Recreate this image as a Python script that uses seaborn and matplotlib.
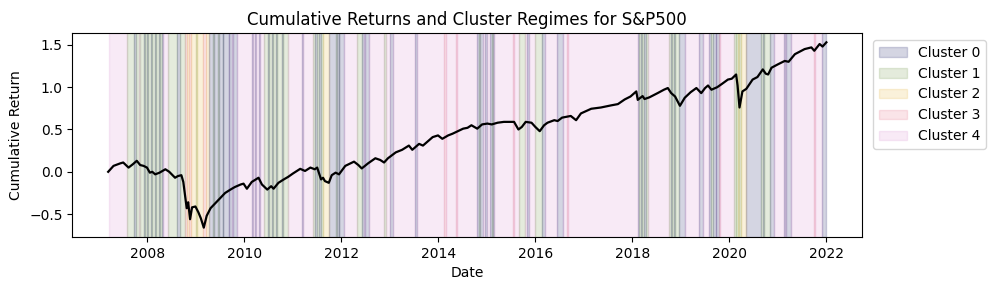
import numpy as np
import pandas as pd
import matplotlib
matplotlib.use("Agg")
import matplotlib.pyplot as plt
import seaborn as sns
from matplotlib.patches import Patch

# ---- cumulative return series (year fraction, value) ----
ret_years = [2007.19, 2007.30, 2007.44, 2007.50, 2007.61, 2007.70, 2007.78, 2007.85, 2007.92, 2007.99,
             2008.05, 2008.10, 2008.16, 2008.25, 2008.37, 2008.45, 2008.57, 2008.63, 2008.70, 2008.74,
             2008.78, 2008.81, 2008.84, 2008.88, 2008.92, 2008.99, 2009.05, 2009.10, 2009.16, 2009.22,
             2009.30, 2009.40, 2009.50, 2009.60, 2009.71, 2009.80, 2009.92, 2009.98, 2010.05, 2010.15,
             2010.29, 2010.36, 2010.47, 2010.55, 2010.60, 2010.70, 2010.81, 2010.90, 2011.00, 2011.15,
             2011.25, 2011.36, 2011.45, 2011.50, 2011.58, 2011.62, 2011.66, 2011.74, 2011.80, 2011.88,
             2011.95, 2012.08, 2012.26, 2012.35, 2012.42, 2012.55, 2012.70, 2012.80, 2012.88, 2012.96,
             2013.12, 2013.25, 2013.39, 2013.46, 2013.60, 2013.68, 2013.78, 2013.88, 2013.99, 2014.08,
             2014.20, 2014.29, 2014.40, 2014.51, 2014.60, 2014.68, 2014.80, 2014.90, 2015.01, 2015.10,
             2015.22, 2015.35, 2015.48, 2015.56, 2015.65, 2015.72, 2015.80, 2015.92, 2016.00, 2016.09,
             2016.18, 2016.25, 2016.39, 2016.46, 2016.55, 2016.73, 2016.84, 2016.94, 2017.15, 2017.35,
             2017.56, 2017.70, 2017.84, 2017.96, 2018.08, 2018.11, 2018.21, 2018.25, 2018.35, 2018.52,
             2018.65, 2018.73, 2018.80, 2018.88, 2018.98, 2019.08, 2019.20, 2019.32, 2019.42, 2019.50,
             2019.56, 2019.63, 2019.75, 2019.85, 2019.97, 2020.05, 2020.14, 2020.17, 2020.21, 2020.27,
             2020.35, 2020.48, 2020.58, 2020.69, 2020.75, 2020.80, 2020.87, 2021.00, 2021.14, 2021.22,
             2021.35, 2021.55, 2021.69, 2021.75, 2021.86, 2021.92, 2022.00]
ret_values = [0.00, 0.07, 0.10, 0.11, 0.05, 0.09, 0.13, 0.08, 0.07, 0.05,
              -0.01, 0.00, -0.03, -0.01, 0.03, 0.00, -0.07, -0.05, -0.04, -0.12,
              -0.30, -0.43, -0.36, -0.56, -0.42, -0.41, -0.48, -0.55, -0.66, -0.52,
              -0.43, -0.37, -0.31, -0.25, -0.21, -0.18, -0.15, -0.14, -0.20, -0.12,
              -0.07, -0.15, -0.21, -0.17, -0.20, -0.13, -0.09, -0.06, -0.02, 0.035,
              0.01, 0.05, 0.03, 0.05, -0.09, -0.07, -0.11, -0.13, -0.04, -0.01,
              -0.03, 0.07, 0.12, 0.08, 0.04, 0.10, 0.16, 0.14, 0.11, 0.16,
              0.23, 0.26, 0.31, 0.26, 0.33, 0.31, 0.36, 0.41, 0.43, 0.39,
              0.43, 0.45, 0.48, 0.51, 0.52, 0.55, 0.51, 0.56, 0.57, 0.56,
              0.58, 0.59, 0.59, 0.59, 0.50, 0.53, 0.59, 0.58, 0.53, 0.48,
              0.55, 0.58, 0.61, 0.60, 0.64, 0.66, 0.61, 0.69, 0.745, 0.76,
              0.785, 0.80, 0.855, 0.89, 0.95, 0.85, 0.895, 0.86, 0.88, 0.93,
              0.97, 0.99, 0.93, 0.89, 0.78, 0.875, 0.94, 0.99, 0.93, 0.99,
              1.02, 0.97, 1.00, 1.04, 1.09, 1.10, 1.15, 1.02, 0.76, 0.95,
              0.98, 1.09, 1.12, 1.21, 1.16, 1.15, 1.23, 1.27, 1.31, 1.30,
              1.39, 1.45, 1.47, 1.43, 1.51, 1.48, 1.53]

# ---- cluster regimes: start (year fraction) and cluster label; each ends where the next begins ----
regime_starts = [2007.21, 2007.57, 2007.73, 2007.76, 2007.82, 2007.85, 2007.92, 2007.94, 2008.00, 2008.02,
                 2008.08, 2008.10, 2008.16, 2008.18, 2008.24, 2008.26, 2008.30, 2008.33, 2008.42, 2008.61,
                 2008.67, 2008.78, 2008.82, 2008.86, 2008.90, 2009.00, 2009.02, 2009.14, 2009.20, 2009.26,
                 2009.36, 2009.375, 2009.45, 2009.465, 2009.55, 2009.565, 2009.67, 2009.69, 2009.74, 2009.76,
                 2009.84, 2010.15, 2010.17, 2010.22, 2010.24, 2010.30, 2010.32, 2010.40, 2010.48, 2010.51,
                 2010.56, 2010.59, 2010.64, 2010.67, 2010.78, 2010.80, 2010.89, 2011.19, 2011.21, 2011.42,
                 2011.46, 2011.49, 2011.54, 2011.57, 2011.61, 2011.74, 2011.88, 2011.91, 2011.94, 2011.96,
                 2012.06, 2012.32, 2012.42, 2012.47, 2012.49, 2012.56, 2012.88, 2012.92, 2013.01, 2013.06,
                 2013.52, 2013.56, 2014.12, 2014.16, 2014.37, 2014.39, 2014.80, 2014.83, 2014.86, 2014.91,
                 2014.97, 2015.01, 2015.07, 2015.10, 2015.12, 2015.14, 2015.53, 2015.55, 2015.67, 2015.79,
                 2015.82, 2015.87, 2016.00, 2016.14, 2016.20, 2016.45, 2016.56, 2016.66, 2016.68, 2018.12,
                 2018.14, 2018.17, 2018.20, 2018.24, 2018.27, 2018.32, 2018.76, 2018.80, 2018.82, 2018.86,
                 2018.88, 2018.97, 2019.08, 2019.38, 2019.46, 2019.59, 2019.62, 2019.66, 2019.72, 2019.73,
                 2019.78, 2019.80, 2020.10, 2020.14, 2020.18, 2020.20, 2020.24, 2020.34, 2020.66, 2020.70,
                 2020.72, 2020.83, 2020.93, 2021.12, 2021.15, 2021.17, 2021.28, 2021.75, 2021.77, 2021.90]
regime_clusters = [4, 1, 0, 1, 4, 1, 0, 1, 0, 1,
                   0, 1, 0, 1, 0, 1, 0, 4, 1, 0,
                   1, 3, 2, 3, 2, 1, 2, 3, 2, 0,
                   1, 0, 1, 0, 1, 0, 4, 0, 4, 0,
                   4, 0, 4, 0, 4, 0, 4, 1, 0, 1,
                   0, 1, 0, 1, 0, 1, 4, 0, 4, 1,
                   0, 1, 0, 1, 2, 0, 1, 0, 1, 0,
                   4, 1, 0, 4, 0, 4, 1, 4, 0, 4,
                   0, 4, 3, 4, 3, 4, 0, 1, 0, 4,
                   0, 4, 0, 1, 0, 4, 3, 4, 1, 4,
                   0, 4, 1, 0, 4, 0, 4, 3, 4, 0,
                   1, 0, 1, 0, 1, 4, 1, 0, 1, 0,
                   1, 0, 4, 0, 4, 0, 1, 0, 4, 0,
                   3, 4, 1, 1, 2, 1, 2, 0, 1, 0,
                   1, 0, 4, 0, 4, 0, 4, 3, 4, 0]
regime_end = 2022.00

cluster_names = ["Cluster 0", "Cluster 1", "Cluster 2", "Cluster 3", "Cluster 4"]
cluster_colors = ["#2a2d6e", "#789b50", "#e6b946", "#e6788c", "#dc96d2"]


def to_date(f):
    y = int(np.floor(f))
    return pd.Timestamp(year=y, month=1, day=1) + pd.Timedelta(days=(f - y) * 365.25)


df = pd.DataFrame({"Date": [to_date(v) for v in ret_years], "Cumulative Return": ret_values})

fig, ax = plt.subplots(figsize=(9.9, 2.9), dpi=100)

ends = regime_starts[1:] + [regime_end]
for s, e, c in zip(regime_starts, ends, regime_clusters):
    ax.axvspan(to_date(s), to_date(e), color=cluster_colors[c], alpha=0.2)

sns.lineplot(data=df, x="Date", y="Cumulative Return", color="black", linewidth=1.6, ax=ax)

handles = [Patch(facecolor=cluster_colors[i], edgecolor=cluster_colors[i], alpha=0.2, label=cluster_names[i])
           for i in range(5)]
ax.legend(handles=handles, loc="upper left", bbox_to_anchor=(1.005, 1.0))
ax.set_title("Cumulative Returns and Cluster Regimes for S&P500")
ax.set_xlabel("Date")
ax.set_ylabel("Cumulative Return")
fig.subplots_adjust(left=0.073, right=0.871, top=0.886, bottom=0.183)
fig.savefig("out.png", dpi=100)
